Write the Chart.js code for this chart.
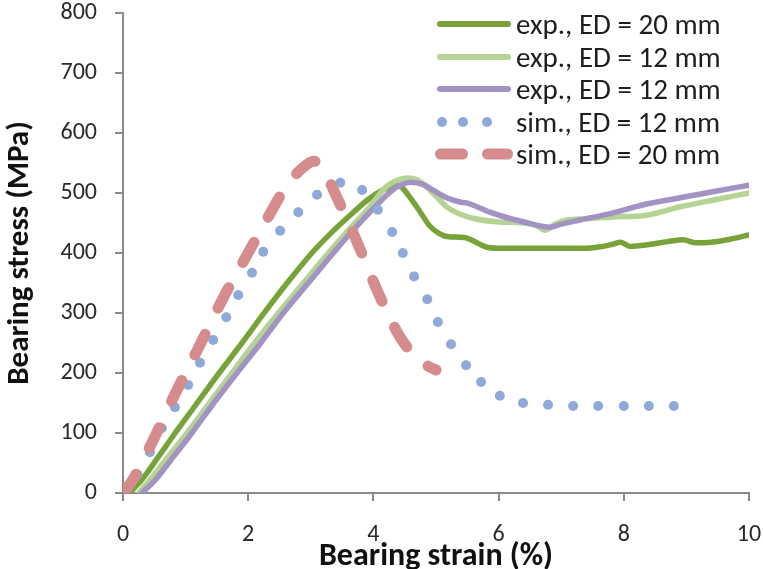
<!DOCTYPE html>
<html>
<head>
<meta charset="utf-8">
<script src="https://cdn.jsdelivr.net/npm/chart.js@4.4.1/dist/chart.umd.min.js"></script>
<style>
  html, body { margin: 0; padding: 0; background: #fff; }
  #wrap { position: relative; width: 763px; height: 569px; font-family: Carlito, Calibri, Lato, sans-serif; }
  #chart { position: absolute; left: 0; top: 0; }
  .legend { position: absolute; left: 434px; top: 8px; color: #1e1e1e; font-size: 29px; }
  .legend .row { display: flex; align-items: center; height: 32.5px; white-space: nowrap; }
  .legend svg { width: 82px; height: 22px; flex: none; }
</style>
</head>
<body>
<div id="wrap">
  <canvas id="chart" width="763" height="569"></canvas>
  <div class="legend" id="legend"></div>
</div>
<script>
/* ── Data ───────────────────────────────────────────────── */
const strainTicks = [0, 2, 4, 6, 8, 10];
const stressTicks = [0, 100, 200, 300, 400, 500, 600, 700, 800];

const seriesNames = ['exp., ED = 20 mm', 'exp., ED = 12 mm', 'exp., ED = 12 mm', 'sim., ED = 12 mm', 'sim., ED = 20 mm'];

// exp., ED = 20 mm
const exp20Strain = [0.1, 0.3, 0.55, 0.8, 1.15, 1.5, 1.9, 2.24, 2.6, 3.0, 3.35, 3.65, 3.9, 4.15, 4.35, 4.45, 4.58, 4.75, 4.9, 5.06, 5.2, 5.45, 5.6, 5.8, 6.0, 6.5, 7.0, 7.4, 7.6, 7.8, 7.95, 8.1, 8.4, 8.7, 8.95, 9.15, 9.4, 9.7, 10];
const exp20Stress = [0, 22, 58, 95, 145, 195, 250, 298, 347, 398, 436, 465, 488, 505, 513, 510, 493, 468, 445, 432, 427, 426, 420, 410, 408, 408, 408, 408, 410, 414, 418, 411, 414, 419, 422, 417, 418, 423, 430];

// exp., ED = 12 mm (light green)
const exp12aStrain = [0.25, 0.45, 0.7, 1.02, 1.38, 1.74, 2.1, 2.48, 2.88, 3.28, 3.6, 3.9, 4.2, 4.4, 4.55, 4.7, 4.85, 4.95, 5.17, 5.38, 5.59, 5.97, 6.39, 6.6, 6.74, 6.9, 7.09, 7.4, 7.83, 8.37, 8.9, 9.42, 10];
const exp12aStress = [0, 24, 58, 100, 150, 200, 250, 300, 350, 400, 438, 472, 510, 522, 525, 522, 510, 500, 477, 465, 458, 452, 450, 446, 438, 448, 455, 457, 460, 463, 477, 488, 500];

// exp., ED = 12 mm (purple)
const exp12bStrain = [0.3, 0.5, 0.75, 1.1, 1.45, 1.82, 2.2, 2.56, 2.96, 3.36, 3.65, 3.9, 4.27, 4.45, 4.6, 4.8, 4.95, 5.17, 5.38, 5.5, 5.86, 6.1, 6.39, 6.82, 7.0, 7.3, 7.83, 8.3, 8.9, 9.42, 10];
const exp12bStress = [0, 20, 53, 100, 150, 200, 250, 300, 350, 400, 435, 463, 502, 514, 518, 514, 505, 492, 485, 483, 468, 460, 452, 443, 448, 455, 467, 480, 492, 502, 513];

// sim., ED = 12 mm (dots)
const sim12Strain = [0.23, 0.43, 0.62, 0.83, 1.04, 1.23, 1.44, 1.65, 1.84, 2.06, 2.24, 2.51, 2.8, 3.1, 3.47, 3.82, 4.07, 4.3, 4.47, 4.65, 4.86, 5.03, 5.24, 5.48, 5.72, 6.02, 6.39, 6.79, 7.19, 7.59, 8.0, 8.4, 8.8];
const sim12Stress = [31, 68, 108, 143, 180, 217, 255, 293, 330, 367, 402, 437, 468, 497, 517, 505, 472, 435, 400, 361, 323, 285, 248, 213, 185, 162, 150, 147, 145, 145, 145, 145, 145];

// sim., ED = 20 mm (dashes)
const sim20Strain = [0, 0.15, 0.5, 0.85, 1.22, 1.58, 1.95, 2.33, 2.6, 2.85, 3.05, 3.2, 3.38, 3.72, 4.03, 4.38, 4.6, 4.85, 5.0];
const sim20Stress = [0, 21, 92, 169, 245, 321, 391, 462, 510, 540, 553, 540, 501, 423, 345, 268, 235, 213, 205];

const colors = ['#77a33a', '#b6d396', '#a293c3', '#8eaad8', '#d68c8c'];

const FONT = 'Carlito, Calibri, Lato, sans-serif';
const pair = (xs, ys) => xs.map((x, i) => ({ x, y: ys[i] }));

const lineBase = { showLine: true, pointRadius: 0, fill: false, cubicInterpolationMode: 'monotone', borderCapStyle: 'round', borderJoinStyle: 'round' };

const datasets = [
  { ...lineBase, label: seriesNames[0], data: pair(exp20Strain, exp20Stress), borderColor: colors[0], borderWidth: 5.5, order: 4 },
  { ...lineBase, label: seriesNames[1], data: pair(exp12aStrain, exp12aStress), borderColor: colors[1], borderWidth: 5.5, order: 3 },
  { ...lineBase, label: seriesNames[2], data: pair(exp12bStrain, exp12bStress), borderColor: colors[2], borderWidth: 5.5, order: 2 },
  { label: seriesNames[3], data: pair(sim12Strain, sim12Stress), showLine: false, pointRadius: 5, pointBorderWidth: 0,
    pointBackgroundColor: colors[3], borderColor: colors[3], order: 1 },
  { ...lineBase, label: seriesNames[4], data: pair(sim20Strain, sim20Stress), borderColor: colors[4], borderWidth: 11,
    borderDash: [23, 29], order: 0 }
];

const axisGrey = '#8a8a8a';

new Chart(document.getElementById('chart'), {
  type: 'scatter',
  data: { datasets },
  options: {
    responsive: false,
    animation: false,
    devicePixelRatio: 1,
    layout: { padding: { top: 13, right: 14, left: 0, bottom: 0 } },
    plugins: { legend: { display: false }, tooltip: { enabled: false } },
    scales: {
      x: {
        type: 'linear', position: 'bottom', min: 0, max: 10,
        afterBuildTicks: s => { s.ticks = strainTicks.map(v => ({ value: v })); },
        // pin the plot box to the reference frame
        afterFit: s => { s.height = 76; s.paddingLeft = 0; s.paddingRight = 0; },
        border: { display: true, color: axisGrey, width: 2 },
        grid: { drawOnChartArea: false, drawTicks: true, tickLength: 8, color: axisGrey, lineWidth: 2 },
        ticks: { color: '#2a2a2a', padding: 20, font: { family: FONT, size: 24 }, maxRotation: 0 },
        title: { display: true, text: 'Bearing strain (%)', color: '#111',
                 font: { family: FONT, size: 32, weight: 'bold', lineHeight: 0.78 }, padding: { top: 0, bottom: 0 } }
      },
      y: {
        type: 'linear', position: 'left', min: 0, max: 800,
        afterBuildTicks: s => { s.ticks = stressTicks.map(v => ({ value: v })); },
        afterFit: s => { s.width = 123; s.paddingTop = 0; s.paddingBottom = 0; },
        border: { display: true, color: axisGrey, width: 2 },
        grid: { drawOnChartArea: false, drawTicks: true, tickLength: 8, color: axisGrey, lineWidth: 2 },
        ticks: { color: '#2a2a2a', padding: 18, font: { family: FONT, size: 24 } },
        title: { display: true, text: 'Bearing stress (MPa)', color: '#111',
                 font: { family: FONT, size: 31, weight: 'bold', lineHeight: 1 }, padding: { top: 5, bottom: 0 } }
      }
    }
  }
});

/* ── Legend (line samples + real text) ───────────────────── */
function sampleSvg(i) {
  const c = colors[i];
  if (i === 3) {
    return `<svg viewBox="0 0 82 22"><circle cx="8" cy="11" r="5" fill="${c}"/><circle cx="29" cy="11" r="5" fill="${c}"/><circle cx="53" cy="11" r="5" fill="${c}"/></svg>`;
  }
  if (i === 4) {
    return `<svg viewBox="0 0 82 22"><line x1="6.5" y1="11" x2="28.5" y2="11" stroke="${c}" stroke-width="11" stroke-linecap="round"/><line x1="53.5" y1="11" x2="73.5" y2="11" stroke="${c}" stroke-width="11" stroke-linecap="round"/></svg>`;
  }
  return `<svg viewBox="0 0 82 22"><line x1="6" y1="11" x2="74" y2="11" stroke="${c}" stroke-width="6" stroke-linecap="round"/></svg>`;
}

document.getElementById('legend').innerHTML = seriesNames.map((n, i) =>
  `<div class="row">${sampleSvg(i)}<span>${n}</span></div>`
).join('');
</script>
</body>
</html>
